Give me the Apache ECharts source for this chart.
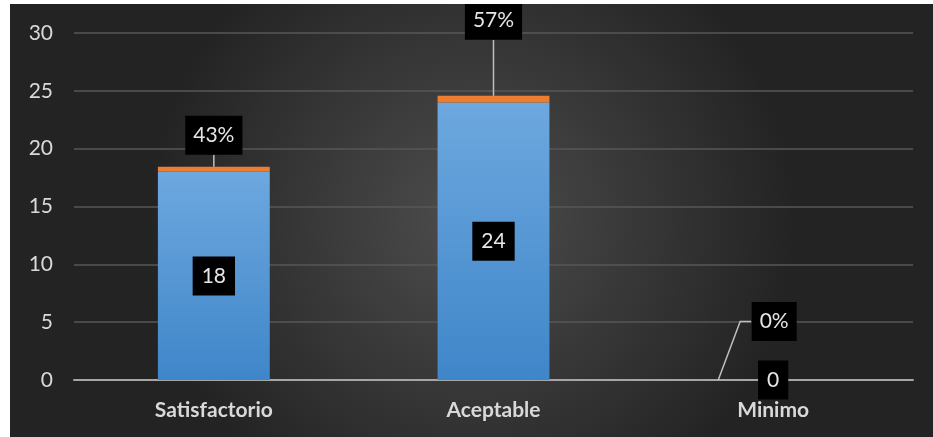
<!DOCTYPE html>
<html>
<head>
<meta charset="utf-8">
<script src="https://cdn.jsdelivr.net/npm/echarts@6/dist/echarts.min.js"></script>
<style>
html,body{margin:0;padding:0;background:#ffffff;width:933px;height:437px;overflow:hidden;}
#chart{position:absolute;left:10px;top:4px;width:923px;height:433px;}
</style>
</head>
<body>
<div id="chart"></div>
<script>
const categories = ['Satisfactorio', 'Aceptable', 'Minimo'];
const counts = [18, 24, 0];
const shares = [0.43, 0.57, 0];
const yMin = 0, yMax = 30, yStep = 5;

const chart = echarts.init(document.getElementById('chart'));
const labelFont = 'Lato, "Open Sans", sans-serif';

// per-label placement of the percentage call-outs (style only)
const calloutGap = [12, 56, 39];

const option = {
  backgroundColor: {
    type: 'radial', x: 0.5, y: 0.5, r: 0.75,
    colorStops: [
      { offset: 0, color: '#4d4d4d' },
      { offset: 1, color: '#232323' }
    ]
  },
  animation: false,
  grid: { left: 64, right: 20, top: 29, bottom: 57 },
  xAxis: {
    type: 'category',
    data: categories,
    axisLine: { show: true, lineStyle: { color: '#a6a6a6', width: 2 } },
    axisTick: { show: false },
    axisLabel: { color: '#d9d9d9', fontFamily: labelFont, fontWeight: 'bold', fontSize: 21, margin: 20 }
  },
  yAxis: {
    type: 'value',
    min: yMin, max: yMax, interval: yStep,
    axisLine: { show: false },
    axisTick: { show: false },
    axisLabel: { color: '#d9d9d9', fontFamily: labelFont, fontSize: 21, margin: 21 },
    splitLine: { lineStyle: { color: '#575757', width: 1.5 } }
  },
  series: [
    {
      type: 'bar',
      stack: 'total',
      barWidth: '40%',
      data: counts,
      itemStyle: {
        color: {
          type: 'linear', x: 0, y: 0, x2: 0, y2: 1,
          colorStops: [
            { offset: 0, color: '#6da8df' },
            { offset: 1, color: '#3f86c9' }
          ]
        }
      },
      label: {
        show: true,
        position: 'inside',
        color: '#e6e6e6',
        fontFamily: labelFont,
        fontSize: 21,
        lineHeight: 21,
        backgroundColor: '#000000',
        padding: [9, 9]
      },
      z: 2
    },
    {
      type: 'bar',
      stack: 'total',
      barWidth: '40%',
      data: shares,
      itemStyle: { color: '#ed7d31' },
      label: { show: false },
      z: 2
    },
    {
      type: 'custom',
      clip: false,
      z: 5,
      data: categories.map((c, i) => [i, counts[i] + shares[i], shares[i]]),
      encode: { x: 0, y: 1 },
      renderItem: function (params, api) {
        const i = params.dataIndex;
        const top = api.coord([api.value(0), api.value(1)]);
        const catW = api.size([1, 0])[0];
        const barHalf = catW * 0.2;
        const txt = Math.round(api.value(2) * 100) + '%';
        const gap = calloutGap[i];
        const boxH = 39;
        const children = [];
        const textStyle = {
          text: txt, fill: '#e6e6e6', font: '21px ' + labelFont,
          align: 'center', lineHeight: 21,
          backgroundColor: '#000000', padding: [9, 8]
        };
        if (i < 2) {
          const boxBottom = top[1] - gap;
          children.push({
            type: 'line',
            shape: { x1: top[0], y1: top[1], x2: top[0], y2: boxBottom },
            style: { stroke: '#bfbfbf', lineWidth: 1.5 }
          });
          children.push({
            type: 'text', x: top[0], y: boxBottom,
            style: Object.assign({ verticalAlign: 'bottom' }, textStyle)
          });
        } else {
          const cx = top[0] + 1;
          const cy = top[1] - gap - boxH / 2;
          const halfW = 23;
          const left = cx - halfW;
          children.push({
            type: 'polyline',
            shape: { points: [[top[0] - barHalf + 1, top[1]], [left - 11, cy], [left, cy]] },
            style: { stroke: '#bfbfbf', lineWidth: 1.5, fill: null }
          });
          children.push({
            type: 'text', x: cx, y: cy,
            style: Object.assign({ verticalAlign: 'middle' }, textStyle)
          });
        }
        return { type: 'group', children: children };
      }
    }
  ]
};
chart.setOption(option);
</script>
</body>
</html>
